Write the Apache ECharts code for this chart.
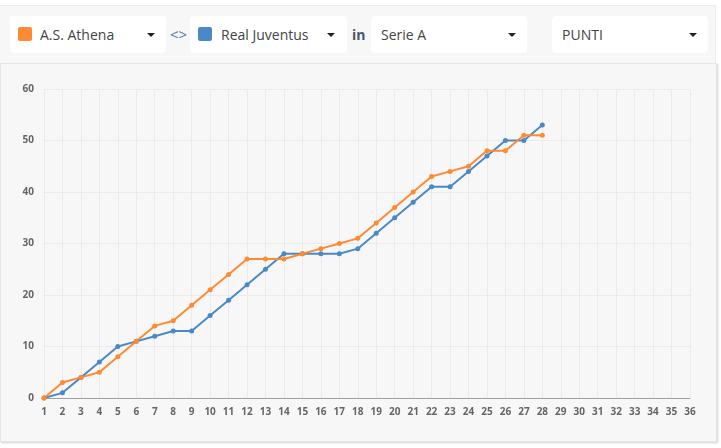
<!DOCTYPE html>
<html>
<head>
<meta charset="utf-8">
<script src="https://cdn.jsdelivr.net/npm/echarts@6/dist/echarts.min.js"></script>
<style>
  html, body { margin: 0; padding: 0; background: #fff; font-family: "Open Sans", sans-serif; }
  #page { position: relative; width: 721px; height: 448px; overflow: hidden; }
  #toolbar {
    position: absolute; left: 0; top: 5px; width: 716px; height: 58px;
    background: #f7f7f7; border-top: 1px solid #ececec; border-right: 1px solid #ececec;
    box-sizing: border-box;
  }
  .select {
    position: absolute; top: 10px; height: 37px; background: #fff; border-radius: 4px;
    font-size: 14px; color: #444; line-height: 37px;
  }
  .select .label { position: absolute; top: 0; }
  .select .swatch { position: absolute; top: 11px; width: 14px; height: 14px; border-radius: 2px; }
  .select .caret {
    position: absolute; top: 17px; width: 0; height: 0;
    border-left: 4px solid transparent; border-right: 4px solid transparent; border-top: 4px solid #222;
  }
  .sep { position: absolute; top: 10px; line-height: 37px; font-size: 14px; }
  #panel {
    position: absolute; left: 0; top: 63px; width: 717px; height: 379px;
    background: #f7f7f7; border: 1px solid #e6e6e6; box-sizing: border-box;
    box-shadow: 1px 1px 2px rgba(0,0,0,0.18);
  }
  #chart { position: absolute; left: 0; top: 0; width: 715px; height: 377px; }
</style>
</head>
<body>
<div id="page">
  <div id="toolbar">
    <div class="select" style="left:10px;width:156px;">
      <div class="swatch" style="left:8px;background:#fe8a33;"></div>
      <div class="label" style="left:30px;">A.S. Athena</div>
      <div class="caret" style="left:137px;"></div>
    </div>
    <div class="sep" style="left:170px;color:#5a7a9a;font-size:15px;">&lt;&gt;</div>
    <div class="select" style="left:190px;width:157px;">
      <div class="swatch" style="left:8px;background:#4a89c8;"></div>
      <div class="label" style="left:31px;">Real Juventus</div>
      <div class="caret" style="left:137px;"></div>
    </div>
    <div class="sep" style="left:352px;color:#4a5868;font-weight:bold;">in</div>
    <div class="select" style="left:371px;width:156px;">
      <div class="label" style="left:10px;">Serie A</div>
      <div class="caret" style="left:137px;"></div>
    </div>
    <div class="select" style="left:552px;width:156px;">
      <div class="label" style="left:10px;">PUNTI</div>
      <div class="caret" style="left:137px;"></div>
    </div>
  </div>
  <div id="panel"><div id="chart"></div></div>
</div>
<script>
const rounds = Array.from({ length: 36 }, (_, i) => String(i + 1))
const athena = [0, 3, 4, 5, 8, 11, 14, 15, 18, 21, 24, 27, 27, 27, 28, 29, 30, 31, 34, 37, 40, 43, 44, 45, 48, 48, 51, 51]
const juventus = [0, 1, 4, 7, 10, 11, 12, 13, 13, 16, 19, 22, 25, 28, 28, 28, 28, 29, 32, 35, 38, 41, 41, 44, 47, 50, 50, 53]

const chart = echarts.init(document.getElementById("chart"), null, { renderer: "canvas" })

const lineSeries = (name, data, color) => ({
  name,
  type: "line",
  data,
  symbol: "circle",
  symbolSize: 5,
  showSymbol: true,
  animation: false,
  itemStyle: { color },
  lineStyle: { width: 2, color }
})

chart.setOption({
  grid: { left: 43, right: 26, top: 25, bottom: 43 },
  xAxis: {
    type: "category",
    data: rounds,
    boundaryGap: false,
    axisLine: { lineStyle: { color: "#a0a0a0", width: 1 } },
    axisTick: { show: false },
    axisLabel: { color: "#666", fontSize: 10, fontWeight: "bold", fontFamily: "Open Sans", margin: 9, interval: 0 },
    splitLine: { show: true, lineStyle: { color: "#ebebeb" } }
  },
  yAxis: {
    type: "value",
    min: 0,
    max: 60,
    interval: 10,
    axisLine: { show: false },
    axisTick: { show: false },
    axisLabel: { color: "#666", fontSize: 10, fontWeight: "bold", fontFamily: "Open Sans", margin: 10 },
    splitLine: { lineStyle: { color: "#ebebeb" } }
  },
  series: [
    lineSeries("Real Juventus", juventus, "#4a89c8"),
    lineSeries("A.S. Athena", athena, "#fe8a33")
  ]
})
</script>
</body>
</html>
